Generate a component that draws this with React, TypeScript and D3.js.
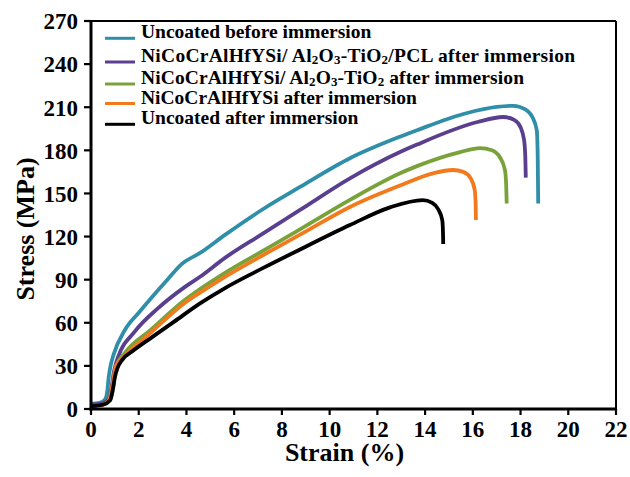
import React from 'react';
import * as d3 from 'd3';

// Stress–strain curves: [strain (%), stress (MPa)]
const uncoatedBefore: [number, number][] = [
  [0, 3.5], [0.4, 4.5], [0.6, 7], [0.68, 12], [0.74, 22], [0.82, 30], [0.95, 38],
  [1.42, 55], [2.0, 67], [2.56, 78], [3.2, 90], [3.81, 101], [4.57, 108.6], [5.6, 121],
  [7.2, 139], [8.76, 154.5], [10.85, 174.5], [12.95, 189.5], [13.66, 194], [15.76, 206],
  [17.0, 210.2], [17.7, 211], [18.2, 208.5], [18.5, 203], [18.68, 194], [18.72, 175], [18.74, 143],
];

const coatedPclAfter: [number, number][] = [
  [0, 3], [0.5, 4], [0.75, 7], [0.85, 14], [0.95, 25], [1.05, 32], [1.13, 36],
  [1.84, 54], [2.8, 70], [3.94, 85], [4.57, 92], [5.6, 105], [7.2, 122], [8.76, 138.5],
  [10.85, 160.5], [12.95, 178.8], [13.66, 184], [16.2, 199.7], [17.27, 203.2],
  [17.75, 201], [18.0, 196], [18.15, 187], [18.2, 175], [18.22, 161],
];

const coatedAfter: [number, number][] = [
  [0, 2], [0.5, 3], [0.8, 6], [0.9, 12], [1.0, 24], [1.1, 31], [1.42, 39], [2.5, 55],
  [3.94, 76], [4.57, 83.5], [5.6, 94.6], [7.2, 110], [8.76, 125], [10.85, 145.5],
  [12.95, 164], [13.66, 169], [15.47, 178.8], [16.3, 181.6], [16.8, 180], [17.14, 175],
  [17.35, 166], [17.4, 155], [17.42, 143],
];

const bondCoatAfter: [number, number][] = [
  [0, 2], [0.5, 3], [0.75, 6], [0.85, 12], [0.95, 22], [1.05, 30], [1.42, 37], [2.5, 53],
  [3.94, 74], [4.57, 81], [5.6, 91.8], [7.2, 107], [8.76, 121.3], [10.85, 140.6],
  [12.95, 155.5], [14.33, 164], [15.17, 166.3], [15.6, 165], [15.9, 160.8], [16.08, 152.4],
  [16.12, 142], [16.13, 131.5],
];

const uncoatedAfter: [number, number][] = [
  [0, 2], [0.5, 3], [0.8, 6], [0.92, 14], [1.0, 22], [1.1, 28], [1.3, 34], [1.8, 41],
  [2.56, 50], [3.5, 61], [4.57, 73.5], [5.6, 84], [7.2, 98], [8.76, 111], [10.85, 128],
  [12.53, 140.3], [13.9, 145.4], [14.3, 143.5], [14.55, 139], [14.72, 131.5], [14.75, 123],
  [14.76, 114.8],
];

// Legend labels; "_n" marks a subscript digit
const seriesLabels = [
  'Uncoated before immersion',
  'NiCoCrAlHfYSi/ Al_2O_3-TiO_2/PCL after immersion',
  'NiCoCrAlHfYSi/ Al_2O_3-TiO_2 after immersion',
  'NiCoCrAlHfYSi after immersion',
  'Uncoated after immersion',
];
const seriesColors = ['#2f8ea8', '#5b3f8f', '#79a23a', '#f27a1c', '#000000'];
const seriesData = [uncoatedBefore, coatedPclAfter, coatedAfter, bondCoatAfter, uncoatedAfter];

const xTicks = d3.range(0, 23, 2);
const yTicks = d3.range(0, 271, 30);

const W = 630;
const H = 477;
const L = 91, R = 616, T = 21, B = 409;
const FONT = '"Liberation Serif", "Times New Roman", serif';

function labelParts(label: string) {
  const parts: { text: string; sub: boolean }[] = [];
  const re = /_(\d)/g;
  let last = 0;
  let m: RegExpExecArray | null;
  while ((m = re.exec(label))) {
    if (m.index > last) parts.push({ text: label.slice(last, m.index), sub: false });
    parts.push({ text: m[1], sub: true });
    last = m.index + m[0].length;
  }
  if (last < label.length) parts.push({ text: label.slice(last), sub: false });
  return parts;
}

export default function App() {
  const x = d3.scaleLinear().domain([0, 22]).range([L, R]);
  const y = d3.scaleLinear().domain([0, 270]).range([B, T]);
  const line = d3
    .line<[number, number]>()
    .x((d) => x(d[0]))
    .y((d) => y(d[1]))
    .curve(d3.curveMonotoneX);

  const legendX = 105;
  const legendY = [38.3, 62, 84, 103.5, 124.3];
  const legendLen: (number | undefined)[] = [undefined, 434, 383, undefined, undefined];

  return (
    <svg
      width={W}
      height={H}
      style={{ position: 'absolute', left: 0, top: 0, background: '#fff' }}
      fontFamily={FONT}
      fontWeight="bold"
    >
      {/* curves */}
      {seriesData.map((d, i) => (
        <path
          key={i}
          d={line(d) || ''}
          fill="none"
          stroke={seriesColors[i]}
          strokeWidth={3.8}
          strokeLinecap="butt"
          strokeLinejoin="round"
        />
      ))}

      {/* frame */}
      <line x1={L} x2={R} y1={T} y2={T} stroke="#000" strokeWidth={2} />
      <line x1={R} x2={R} y1={T} y2={B} stroke="#000" strokeWidth={2} />
      <line x1={L} x2={L} y1={T - 1} y2={B + 1.5} stroke="#000" strokeWidth={3} />
      <line x1={L - 1.5} x2={R + 1} y1={B} y2={B} stroke="#000" strokeWidth={3} />

      {/* y axis */}
      {yTicks.map((t) => (
        <g key={`y${t}`}>
          <line x1={L - 7} x2={L} y1={y(t)} y2={y(t)} stroke="#000" strokeWidth={2.2} />
          <text x={L - 13} y={y(t)} dy="0.36em" textAnchor="end" fontSize={23}>
            {t}
          </text>
        </g>
      ))}

      {/* x axis */}
      {xTicks.map((t) => (
        <g key={`x${t}`}>
          <line x1={x(t)} x2={x(t)} y1={B} y2={B + 6} stroke="#000" strokeWidth={2.2} />
          <text x={x(t)} y={B + 28} textAnchor="middle" fontSize={23}>
            {t}
          </text>
        </g>
      ))}

      <text x={(L + R) / 2 - 9} y={461} textAnchor="middle" fontSize={26}>
        Strain (%)
      </text>
      <text
        transform={`translate(34, ${(T + B) / 2 + 14}) rotate(-90)`}
        textAnchor="middle"
        fontSize={26}
      >
        Stress (MPa)
      </text>

      {/* legend */}
      {seriesLabels.map((label, i) => {
        const parts = labelParts(label);
        return (
          <g key={`lg${i}`}>
            <line
              x1={legendX}
              x2={legendX + 30}
              y1={legendY[i]}
              y2={legendY[i]}
              stroke={seriesColors[i]}
              strokeWidth={3}
            />
            <text
              x={legendX + 36}
              y={legendY[i]}
              dy="0.35em"
              fontSize={19.5}
              textLength={legendLen[i]}
              lengthAdjust={legendLen[i] ? 'spacing' : undefined}
            >
              {parts.map((p, k) => {
                const prevSub = k > 0 && parts[k - 1].sub;
                const dy = p.sub ? 2 : prevSub ? -2 : 0;
                return (
                  <tspan key={k} dy={dy} fontSize={p.sub ? 13 : 19.5}>
                    {p.text}
                  </tspan>
                );
              })}
            </text>
          </g>
        );
      })}
    </svg>
  );
}
